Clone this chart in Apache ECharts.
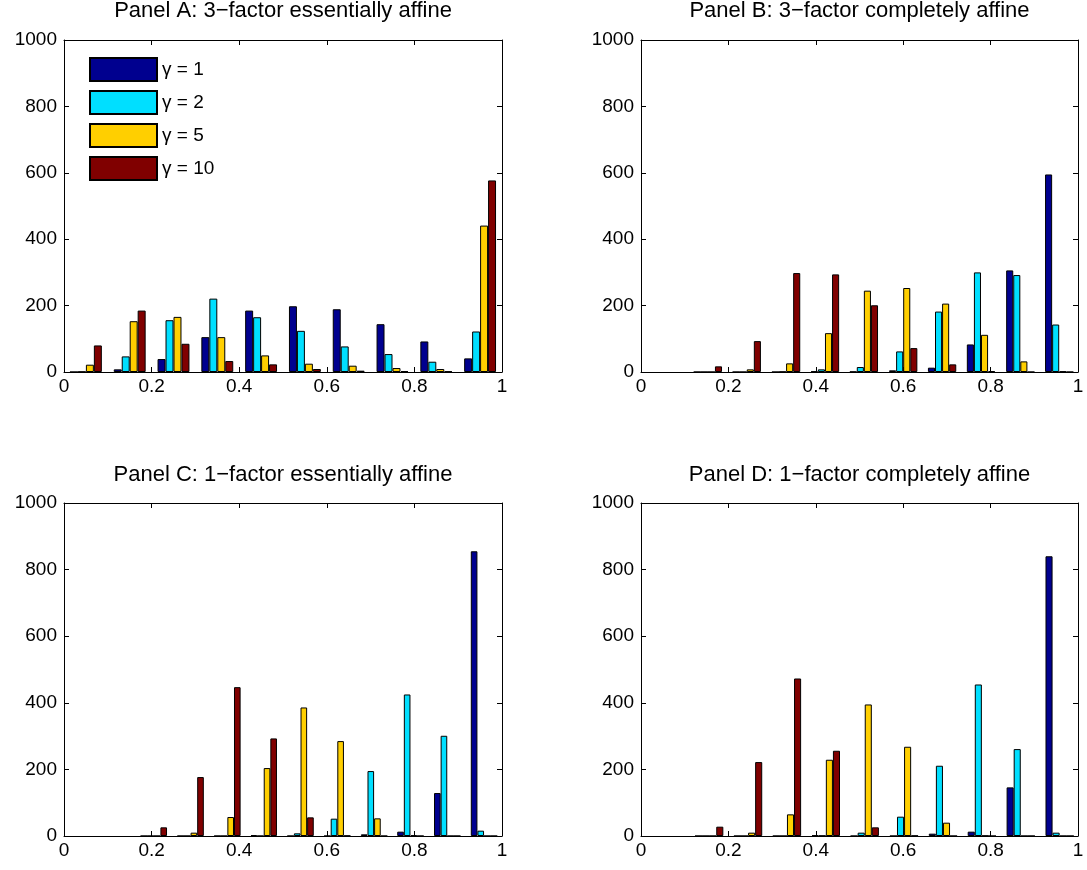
<!DOCTYPE html>
<html><head><meta charset="utf-8">
<script src="https://cdn.jsdelivr.net/npm/echarts@6/dist/echarts.min.js"></script>
<style>html,body{margin:0;padding:0;background:#fff}#c{width:1087px;height:870px}</style>
</head><body><div id="c"></div>
<script>
// ---- data ----
const seriesNames = ['γ = 1', 'γ = 2', 'γ = 5', 'γ = 10'];
const panelTitles = [
  'Panel A: 3\u2212factor essentially affine',
  'Panel B: 3\u2212factor completely affine',
  'Panel C: 1\u2212factor essentially affine',
  'Panel D: 1\u2212factor completely affine'
];
// bin centres (x positions of each group of bars)
const binsA = [0.05, 0.15, 0.25, 0.35, 0.45, 0.55, 0.65, 0.75, 0.85, 0.95];
const binsB = [0.153, 0.242, 0.332, 0.421, 0.510, 0.600, 0.689, 0.778, 0.868, 0.957];
const binsC = [0.205, 0.289, 0.373, 0.456, 0.540, 0.624, 0.708, 0.791, 0.875, 0.959];
const binsD = [0.156, 0.245, 0.334, 0.423, 0.512, 0.602, 0.691, 0.780, 0.869, 0.958];
// Panel A
const panelA_g1  = [0, 8, 39, 105, 185, 198, 189, 144, 92, 41];
const panelA_g2  = [1, 47, 156, 221, 165, 124, 77, 54, 31, 122];
const panelA_g5  = [22, 153, 166, 105, 50, 25, 19, 12, 9, 441];
const panelA_g10 = [80, 185, 85, 33, 23, 9, 4, 3, 2, 577];
// Panel B
const panelB_g1  = [0, 0, 0, 2, 1, 5, 13, 83, 306, 595];
const panelB_g2  = [0, 0, 1, 8, 15, 62, 182, 300, 292, 143];
const panelB_g5  = [0, 8, 26, 117, 245, 253, 206, 112, 32, 2];
const panelB_g10 = [17, 93, 298, 294, 201, 72, 23, 3, 0, 0];
// Panel C
const panelC_g1  = [0, 0, 0, 3, 0, 0, 5, 13, 129, 855];
const panelC_g2  = [0, 0, 0, 0, 8, 52, 195, 425, 301, 16];
const panelC_g5  = [0, 10, 57, 204, 386, 285, 53, 2, 0, 0];
const panelC_g10 = [26, 177, 447, 293, 56, 1, 0, 0, 0, 0];
// Panel D
const panelD_g1  = [0, 0, 0, 2, 0, 0, 7, 13, 146, 840];
const panelD_g2  = [0, 0, 0, 1, 10, 58, 211, 455, 261, 10];
const panelD_g5  = [0, 10, 65, 229, 395, 268, 40, 1, 0, 0];
const panelD_g10 = [28, 222, 473, 256, 26, 1, 0, 0, 0, 0];

const panelBins = [binsA, binsB, binsC, binsD];
const panelValues = [
  [panelA_g1, panelA_g2, panelA_g5, panelA_g10],
  [panelB_g1, panelB_g2, panelB_g5, panelB_g10],
  [panelC_g1, panelC_g2, panelC_g5, panelC_g10],
  [panelD_g1, panelD_g2, panelD_g5, panelD_g10]
];
const xMin = 0, xMax = 1, xStep = 0.2;
const yMin = 0, yMax = 1000, yStep = 200;

// ---- styling / layout ----
const colors = ['#00008f', '#00dfff', '#ffcf00', '#800000'];
const FONT = '"Liberation Sans", Arial, Helvetica, sans-serif';
const FS = 19;
const TFS = 22;
const grids = [
  {left: 64, top: 40, width: 438, height: 332},
  {left: 641, top: 40, width: 437, height: 332},
  {left: 64, top: 503, width: 438, height: 333},
  {left: 641, top: 503, width: 437, height: 333}
];
const titleY = [0, 464];

const xAxes = [], yAxes = [], series = [], titles = [];
grids.forEach((g, i) => {
  const line = {show: true, onZero: false, lineStyle: {color: '#000', width: 1}};
  const tick = {show: true, inside: true, length: 5, lineStyle: {color: '#000', width: 1}};
  const lab = {color: '#000', fontSize: FS, fontFamily: FONT, formatter: v => String(v)};
  xAxes.push({type: 'value', gridIndex: i, min: xMin, max: xMax, interval: xStep, position: 'bottom',
    axisLine: line, axisTick: tick, splitLine: {show: false},
    axisLabel: Object.assign({margin: 5}, lab)});
  xAxes.push({type: 'value', gridIndex: i, min: xMin, max: xMax, interval: xStep, position: 'top',
    axisLine: line, axisTick: tick, splitLine: {show: false}, axisLabel: {show: false}});
  yAxes.push({type: 'value', gridIndex: i, min: yMin, max: yMax, interval: yStep, position: 'left',
    axisLine: line, axisTick: tick, splitLine: {show: false},
    axisLabel: Object.assign({margin: 7}, lab)});
  yAxes.push({type: 'value', gridIndex: i, min: yMin, max: yMax, interval: yStep, position: 'right',
    axisLine: line, axisTick: tick, splitLine: {show: false}, axisLabel: {show: false}});
  titles.push({text: panelTitles[i], left: g.left + g.width / 2, top: titleY[i < 2 ? 0 : 1],
    textAlign: 'center', padding: 0,
    textStyle: {fontSize: TFS, fontWeight: 'normal', color: '#000', fontFamily: FONT}});
  panelValues[i].forEach((vals, k) => {
    series.push({
      type: 'bar', name: seriesNames[k], xAxisIndex: 2 * i, yAxisIndex: 2 * i,
      data: panelBins[i].map((x, j) => [x, vals[j]]),
      barWidth: '18.2%', barGap: '0%',
      itemStyle: {color: colors[k], borderColor: '#000', borderWidth: 1},
      emphasis: {disabled: true}
    });
  });
});

const chart = echarts.init(document.getElementById('c'), null, {renderer: 'canvas'});
chart.setOption({
  animation: false,
  backgroundColor: '#fff',
  title: titles,
  grid: grids,
  xAxis: xAxes,
  yAxis: yAxes,
  legend: {
    data: seriesNames, left: 89, top: 57, orient: 'vertical', padding: 0,
    itemWidth: 67, itemHeight: 23, itemGap: 8, icon: 'rect', selectedMode: false,
    textStyle: {fontSize: FS, color: '#000', fontFamily: FONT}
  },
  series: series
});
</script>
</body></html>
